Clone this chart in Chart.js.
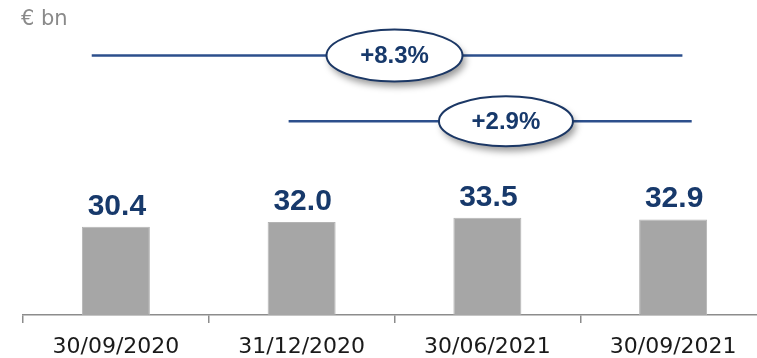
<!DOCTYPE html>
<html>
<head>
<meta charset="utf-8">
<script src="https://cdn.jsdelivr.net/npm/chart.js@4/dist/chart.umd.min.js"></script>
<style>
  html, body { margin:0; padding:0; background:#fff; overflow:hidden; }
  #wrap { position:relative; width:757px; height:358px; overflow:hidden; }
  canvas { position:absolute; left:0; top:0; }
</style>
</head>
<body>
<div id="wrap"><canvas id="chart" width="770" height="358"></canvas></div>
<script>
  // quarter-end dates and balances (€ bn)
  const periods = ["30/09/2020", "31/12/2020", "30/06/2021", "30/09/2021"];
  const balances = [30.4, 32.0, 33.5, 32.9];

  // growth call-outs: span on the category axis, height on the value axis
  const growthLabels = ["+8.3%", "+2.9%"];
  const growthFrom   = [-0.13, 0.93];
  const growthTo     = [3.05, 3.10];
  const growthBubble = [1.5, 2.1];
  const growthLevel  = [89.3, 66.7];

  const NAVY = '#17396b';

  // bold value above every bar
  const valueLabels = {
    id: 'valueLabels',
    afterDatasetsDraw(chart) {
      const ctx = chart.ctx;
      const meta = chart.getDatasetMeta(0);
      ctx.save();
      ctx.font = 'bold 30px "Liberation Sans", Arial, sans-serif';
      ctx.fillStyle = NAVY;
      ctx.textAlign = 'center';
      ctx.textBaseline = 'alphabetic';
      meta.data.forEach((bar, i) => {
        ctx.fillText(balances[i].toFixed(1), bar.x + 1, bar.y - 12);
      });
      ctx.restore();
    }
  };

  // horizontal growth lines with an oval badge
  const growthBadges = {
    id: 'growthBadges',
    afterDraw(chart) {
      const ctx = chart.ctx;
      const xs = chart.scales.x, ys = chart.scales.y;
      ctx.save();
      growthLabels.forEach((txt, i) => {
        const y = ys.getPixelForValue(growthLevel[i]);
        const x0 = xs.getPixelForValue(growthFrom[i]);
        const x1 = xs.getPixelForValue(growthTo[i]);
        const cx = xs.getPixelForValue(growthBubble[i]);
        const rx = i === 0 ? 68 : 67, ry = i === 0 ? 26 : 25;
        ctx.strokeStyle = '#2c4f8c';
        ctx.lineWidth = 2.5;
        ctx.beginPath();
        ctx.moveTo(x0, y);
        ctx.lineTo(x1, y);
        ctx.stroke();

        ctx.save();
        ctx.shadowColor = 'rgba(0,0,0,0.4)';
        ctx.shadowBlur = 7;
        ctx.shadowOffsetX = 3;
        ctx.shadowOffsetY = 5;
        ctx.beginPath();
        ctx.ellipse(cx, y, rx, ry, 0, 0, Math.PI * 2);
        ctx.fillStyle = '#fff';
        ctx.fill();
        ctx.restore();
        ctx.strokeStyle = '#1b3765';
        ctx.lineWidth = 2;
        ctx.beginPath();
        ctx.ellipse(cx, y, rx, ry, 0, 0, Math.PI * 2);
        ctx.stroke();

        ctx.font = 'bold 24px "Liberation Sans", Arial, sans-serif';
        ctx.fillStyle = NAVY;
        ctx.textAlign = 'center';
        ctx.textBaseline = 'middle';
        ctx.fillText(txt, cx, y + 1);
      });

      // unit caption
      ctx.font = '21px "DejaVu Sans", sans-serif';
      ctx.fillStyle = '#8a8a8a';
      ctx.textAlign = 'left';
      ctx.textBaseline = 'top';
      ctx.fillText('€ bn', 21, 9);
      ctx.restore();
    }
  };

  new Chart(document.getElementById('chart'), {
    type: 'bar',
    data: {
      labels: periods,
      datasets: [{
        data: balances,
        backgroundColor: '#a6a6a6',
        borderColor: '#b4b4b4',
        borderWidth: 1,
        categoryPercentage: 1,
        barPercentage: 0.366
      }]
    },
    options: {
      responsive: false,
      animation: false,
      layout: { padding: { left: 23, right: 4, top: 0, bottom: 0 } },
      plugins: { legend: { display: false }, tooltip: { enabled: false } },
      scales: {
        x: {
          offset: true,
          grid: { display: true, offset: true, drawOnChartArea: false, drawTicks: true, tickLength: 8, color: '#8c8c8c', lineWidth: 1.5 },
          border: { display: true, color: '#8c8c8c', width: 1.5 },
          ticks: { color: '#1a1a1a', font: { family: '"DejaVu Sans", sans-serif', size: 22 }, padding: 11, maxRotation: 0 },
          afterFit(scale) { scale.height = 43; }
        },
        y: { display: false, min: 0, max: 108.4 }
      }
    },
    plugins: [valueLabels, growthBadges]
  });
</script>
</body>
</html>
